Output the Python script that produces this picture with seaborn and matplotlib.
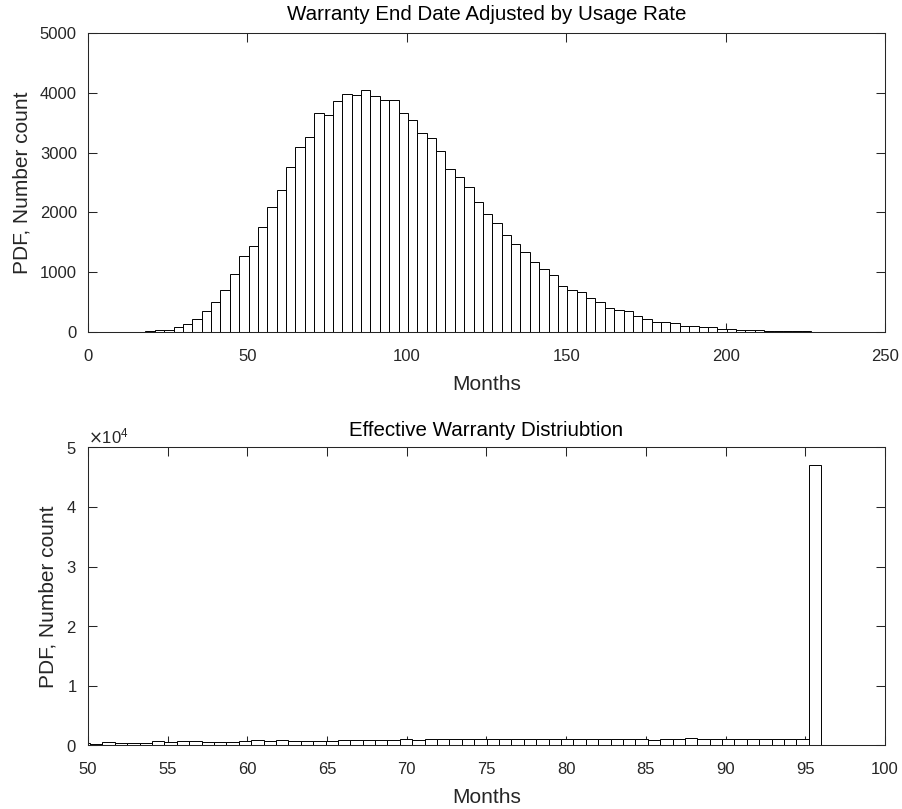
import numpy as np
import pandas as pd
import matplotlib
matplotlib.use("Agg")
import matplotlib.pyplot as plt
import seaborn as sns

# ---------------- data ----------------
# Top panel: histogram of warranty end date (months), 78 bins
top_bin_start = 18.0
top_bin_width = 2.941
top_counts = [10, 28, 40, 84, 134, 218, 357, 502, 703, 971,
              1266, 1440, 1752, 2092, 2371, 2761, 3096, 3264, 3665, 3632,
              3855, 3978, 3967, 4050, 3950, 3883, 3883, 3660, 3548, 3330,
              3241, 3035, 2728, 2589, 2421, 2170, 1975, 1819, 1623, 1473,
              1339, 1166, 1054, 948, 764, 708, 669, 574, 502, 402,
              374, 351, 273, 212, 167, 167, 151, 106, 106, 84,
              78, 50, 45, 28, 28, 33, 22, 11, 11, 11,
              11, 6, 6, 2, 5, 5, 2, 5]

# Bottom panel: effective warranty (capped at 96 months), 60 bins ending at 96
bot_bin_end = 96.0
bot_bin_width = 0.7775
bot_counts = [330, 300, 500, 450, 450, 450, 670, 620, 670, 670,
              560, 560, 560, 780, 840, 730, 840, 780, 780, 780,
              780, 950, 950, 950, 950, 900, 1000, 950, 1120, 1120,
              1120, 1120, 1060, 1010, 1000, 1120, 1120, 1120, 1120, 1120,
              1120, 1120, 1120, 1120, 1120, 1060, 950, 1120, 1120, 1290,
              980, 1120, 1120, 1120, 1120, 980, 1120, 1120, 1120, 47000]

top_title = "Warranty End Date Adjusted by Usage Rate"
bot_title = "Effective Warranty Distriubtion"
x_label = "Months"
y_label = "PDF, Number count"
top_xticks = [0, 50, 100, 150, 200, 250]
top_yticks = [0, 1000, 2000, 3000, 4000, 5000]
bot_xticks = [50, 55, 60, 65, 70, 75, 80, 85, 90, 95, 100]
bot_yticks = [0, 10000, 20000, 30000, 40000, 50000]

# ---------------- derived bin geometry ----------------
top_edges = top_bin_start + top_bin_width * np.arange(len(top_counts) + 1)
top_centers = (top_edges[:-1] + top_edges[1:]) / 2
nb = len(bot_counts)
bot_edges = bot_bin_end - bot_bin_width * np.arange(nb, -1, -1)
bot_centers = (bot_edges[:-1] + bot_edges[1:]) / 2

top_df = pd.DataFrame({"months": top_centers, "count": np.array(top_counts, dtype=float)})
bot_df = pd.DataFrame({"months": bot_centers, "count": np.array(bot_counts, dtype=float)})

# ---------------- style ----------------
sns.set_style("ticks")
plt.rcParams["font.family"] = ["Liberation Sans", "DejaVu Sans"]
axis_color = "#262626"
plt.rcParams.update({
    "axes.edgecolor": axis_color,
    "axes.linewidth": 0.75,
    "xtick.color": axis_color,
    "ytick.color": axis_color,
    "xtick.direction": "in",
    "ytick.direction": "in",
    "xtick.major.size": 6.5,
    "ytick.major.size": 6.5,
    "xtick.major.width": 0.75,
    "ytick.major.width": 0.75,
    "xtick.top": True,
    "ytick.right": True,
    "font.size": 12,
})

fig = plt.figure(figsize=(9.02, 8.09), dpi=100)
ax1 = fig.add_axes([88 / 902, 1 - 332 / 809, (885 - 88) / 902, (332 - 33) / 809])
ax2 = fig.add_axes([88 / 902, 1 - 745.3 / 809, (885 - 88) / 902, (745.3 - 447.3) / 809])

bar_kw = dict(color="white", edgecolor="black", linewidth=0.7, alpha=1.0)

sns.histplot(data=top_df, x="months", weights="count",
             bins=[float(e) for e in top_edges], ax=ax1, **bar_kw)
sns.histplot(data=bot_df, x="months", weights="count",
             bins=[float(e) for e in bot_edges], ax=ax2, **bar_kw)

for ax, xt, yt, title, tpad in [(ax1, top_xticks, top_yticks, top_title, 9),
                                (ax2, bot_xticks, bot_yticks, bot_title, 8)]:
    ax.set_xlim(xt[0], xt[-1])
    ax.set_ylim(yt[0], yt[-1])
    ax.set_xticks(xt)
    ax.set_yticks(yt)
    ax.tick_params(labelsize=12, which="both", top=True, right=True,
                   direction="in")
    ax.tick_params(axis="x", pad=12)
    ax.tick_params(axis="y", pad=8)
    ax.set_title(title, fontsize=14.8, color="black", pad=tpad)
    ax.set_xlabel(x_label, fontsize=15, color=axis_color, labelpad=8)
    ax.set_ylabel(y_label, fontsize=15, color=axis_color, labelpad=6)
    for s in ax.spines.values():
        s.set_visible(True)
        s.set_color(axis_color)
        s.set_linewidth(0.75)

ax2.ticklabel_format(axis="y", style="sci", scilimits=(0, 0), useMathText=True)
ax2.yaxis.get_offset_text().set_fontsize(12)
ax2.yaxis.get_offset_text().set_color(axis_color)

fig.savefig("out.png", dpi=100)
